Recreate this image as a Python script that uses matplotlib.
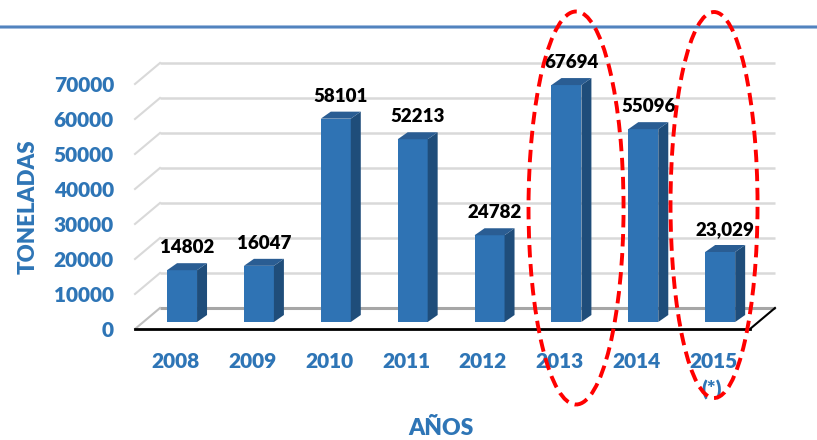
import matplotlib
matplotlib.use('Agg')
import matplotlib.pyplot as plt
from matplotlib.patches import Polygon, Ellipse
from matplotlib.lines import Line2D

# ---------------- data ----------------
years = ['2008', '2009', '2010', '2011', '2012', '2013', '2014', '2015']
year_notes = ['', '', '', '', '', '', '', '(*)']
values = [14802, 16047, 58101, 52213, 24782, 67694, 55096, 20000]
value_labels = ['14802', '16047', '58101', '52213', '24782', '67694', '55096', '23,029']
yticks = [0, 10000, 20000, 30000, 40000, 50000, 60000, 70000]
highlighted = [5, 7]

# ---------------- style ----------------
W, H = 817, 440
BLUE_TXT = '#2E75B6'
FRONT = '#2F73B4'
SIDE = '#1F4D7A'
TOP = '#2A5D93'
GRID = '#D9D9D9'
FONT = 'Lato'

plt.rcParams['font.family'] = [FONT, 'DejaVu Sans']

fig = plt.figure(figsize=(W / 100, H / 100), dpi=100)
fig.patch.set_facecolor('white')
ax = fig.add_axes([135 / W, (H - 329) / H, 615 / W, 245 / H])
ax.set_xlim(-0.5, len(years) - 0.5)
ax.set_ylim(0, 70000)
ax.axis('off')

# depth (data units)
WDX, WDY = 0.325, 6000      # wall depth
BX, BY = 0.112, 2000        # bar front-face offset
SDX, SDY = 0.13, 2000       # bar depth
BW = 0.39                   # bar width

xl, xr = -0.5, len(years) - 0.5

# walls / gridlines
for v in yticks:
    c = '#A6A6A6' if v == 0 else GRID
    ax.plot([xl + WDX, xr + WDX], [v + WDY, v + WDY], color=c, lw=2.2 if v == 0 else 1.8,
            clip_on=False, zorder=1, solid_capstyle='butt')
    ax.plot([xl, xl + WDX], [v, v + WDY], color='#BFBFBF' if v == 0 else GRID, lw=1.5,
            clip_on=False, zorder=1)

# floor edges
ax.plot([xl, xr], [0, 0], color='black', lw=2, clip_on=False, zorder=2)
ax.plot([xr, xr + WDX], [0, WDY], color='black', lw=1.5, clip_on=False, zorder=2)

# bars
for i, v in enumerate(values):
    x0 = i + BX - BW / 2
    x1 = x0 + BW
    y0 = BY
    y1 = BY + v
    ax.bar(i + BX, v, width=BW, bottom=BY, color=FRONT, zorder=3, clip_on=False)
    ax.add_patch(Polygon([(x1, y0), (x1 + SDX, y0 + SDY), (x1 + SDX, y1 + SDY), (x1, y1)],
                         closed=True, facecolor=SIDE, edgecolor='none', zorder=3, clip_on=False))
    ax.add_patch(Polygon([(x0, y1), (x1, y1), (x1 + SDX, y1 + SDY), (x0 + SDX, y1 + SDY)],
                         closed=True, facecolor=TOP, edgecolor='none', zorder=3, clip_on=False))
    ax.annotate(value_labels[i], (i + BX + SDX / 2, y1 + SDY), xytext=(0, 17),
                textcoords='offset pixels', ha='center', va='center_baseline',
                fontsize=13.5, fontweight='heavy', color='black', zorder=5,
                annotation_clip=False)

# x labels
for i, (yr, note) in enumerate(zip(years, year_notes)):
    ax.annotate(yr, (i, 0), xytext=(2, -31), textcoords='offset pixels', ha='center',
                va='center_baseline', fontsize=15, fontweight='heavy', color=BLUE_TXT,
                annotation_clip=False)
    if note:
        ax.annotate(note, (i, 0), xytext=(0, -59), textcoords='offset pixels', ha='center',
                    va='center_baseline', fontsize=15, fontweight='heavy', color=BLUE_TXT,
                    annotation_clip=False)

# y labels
for v in yticks:
    ax.annotate(f'{v}', (xl, v), xytext=(-21, 0), textcoords='offset pixels', ha='right',
                va='center_baseline', fontsize=15, fontweight='heavy', color=BLUE_TXT,
                annotation_clip=False)

fig.text(28 / W, 1 - 207 / H, 'TONELADAS', rotation=90, ha='center', va='center',
         fontsize=16, fontweight='heavy', color=BLUE_TXT)
fig.text(441 / W, 1 - 428 / H, 'AÑOS', ha='center', va='center',
         fontsize=16.5, fontweight='heavy', color=BLUE_TXT)

# highlight ellipses (red dashed)
ell_dx = {5: 0.237, 7: 0.032}
ell_w = {5: 1.236, 7: 1.132}
ell_yc = {5: 34571, 7: 35429}
ell_h = {5: 112286, 7: 110286}
for idx in highlighted:
    ax.add_patch(Ellipse((idx + ell_dx[idx], ell_yc[idx]), ell_w[idx], ell_h[idx],
                         fill=False, edgecolor='#FF0000', lw=2.8, linestyle=(0, (3.2, 1.7)),
                         zorder=6, clip_on=False))

# top rule
fig.add_artist(Line2D([0, 1], [1 - 27 / H] * 2, transform=fig.transFigure,
                      color='#9DB9DD', lw=2.8, zorder=0))
fig.add_artist(Line2D([0, 1], [1 - 27 / H] * 2, transform=fig.transFigure,
                      color='#4A7EBB', lw=1.3, zorder=0))

fig.savefig('out.png', dpi=100)
